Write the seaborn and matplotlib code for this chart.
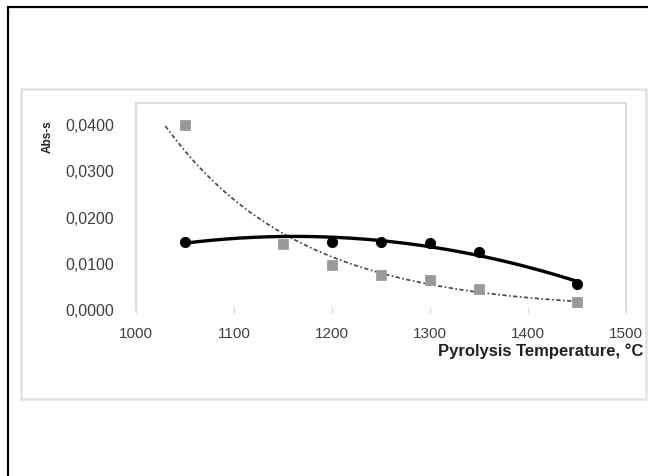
import numpy as np
import pandas as pd
import seaborn as sns
import matplotlib.pyplot as plt
from matplotlib.patches import Rectangle
from matplotlib.ticker import FuncFormatter

# values
temp_circle = [1050, 1200, 1250, 1300, 1350, 1450]
abs_circle = [0.0148, 0.0147, 0.0147, 0.0145, 0.0125, 0.0057]

temp_square = [1050, 1150, 1200, 1250, 1300, 1350, 1450]
abs_square = [0.0401, 0.0142, 0.0097, 0.0075, 0.0065, 0.0045, 0.0017]

x_ticks = [1000, 1100, 1200, 1300, 1400, 1500]
y_ticks = [0.0, 0.01, 0.02, 0.03, 0.04]

sns.set_theme(style="white")
plt.rcParams["font.family"] = ["Liberation Sans", "DejaVu Sans"]

fig = plt.figure(figsize=(6.48, 4.76), dpi=100)
W, H = 648, 476

# outer black frame and light grey chart-area box
fig.patches.append(Rectangle((8 / W, -0.2), 1.2, 1.2 - 7 / H,
                             transform=fig.transFigure, fill=False,
                             edgecolor="black", linewidth=1.6))
fig.patches.append(Rectangle((21 / W, 1 - 399 / H), (646 - 21) / W, (399 - 89) / H,
                             transform=fig.transFigure, fill=False,
                             edgecolor="#e2e2e2", linewidth=1.8))

ax = fig.add_axes([136 / W, 1 - 310 / H, (626 - 136) / W, (310 - 103) / H])

# trendlines: 2nd order polynomial and exponential, as Excel would draw them
poly = np.polyfit(temp_circle, abs_circle, 2)
xc = np.linspace(min(temp_circle), max(temp_circle), 200)
fit_c = pd.DataFrame({"T": xc, "A": np.polyval(poly, xc)})

b, ln_a = np.polyfit(temp_square, np.log(abs_square), 1)
xs = np.linspace(1030, max(temp_square), 200)
fit_s = pd.DataFrame({"T": xs, "A": np.exp(ln_a + b * xs)})

sns.lineplot(data=fit_s, x="T", y="A", ax=ax, color="#444444", linewidth=1.2,
             linestyle=(0, (2.5, 1.5, 1, 1.5)))
sns.lineplot(data=fit_c, x="T", y="A", ax=ax, color="black", linewidth=2.4)

sns.scatterplot(x=temp_square, y=abs_square, ax=ax, marker="s", s=45,
                color="#999999", edgecolor="#999999", zorder=3)
sns.scatterplot(x=temp_circle, y=abs_circle, ax=ax, marker="o", s=55,
                color="black", edgecolor="black", zorder=4)

ax.set_xlim(1000, 1500)
ax.set_ylim(0, 0.0448)
ax.set_xticks(x_ticks)
ax.set_yticks(y_ticks)
ax.yaxis.set_major_formatter(FuncFormatter(lambda v, p: f"{v:.4f}".replace(".", ",")))

for side in ["top", "left", "right"]:
    ax.spines[side].set_color("#dddddd")
    ax.spines[side].set_linewidth(1.5)
ax.spines["bottom"].set_visible(False)

ax.tick_params(axis="x", bottom=True, length=4, width=1, color="#dddddd",
               direction="inout", labelsize=11, labelcolor="#404040", pad=10)
ax.tick_params(axis="y", left=False, labelsize=11.5, labelcolor="#404040", pad=10)

ax.set_xlabel("")
ax.set_ylabel("")
fig.text(643 / W, 1 - 351 / H, "Pyrolysis Temperature, °C", ha="right", va="center",
         fontsize=12, fontweight="bold", color="#222222")
fig.text(48 / W, 1 - 137 / H, "Abs-s", ha="center", va="center", rotation=90,
         fontsize=8.5, fontweight="bold", color="#222222")

fig.savefig("out.png", dpi=100)
